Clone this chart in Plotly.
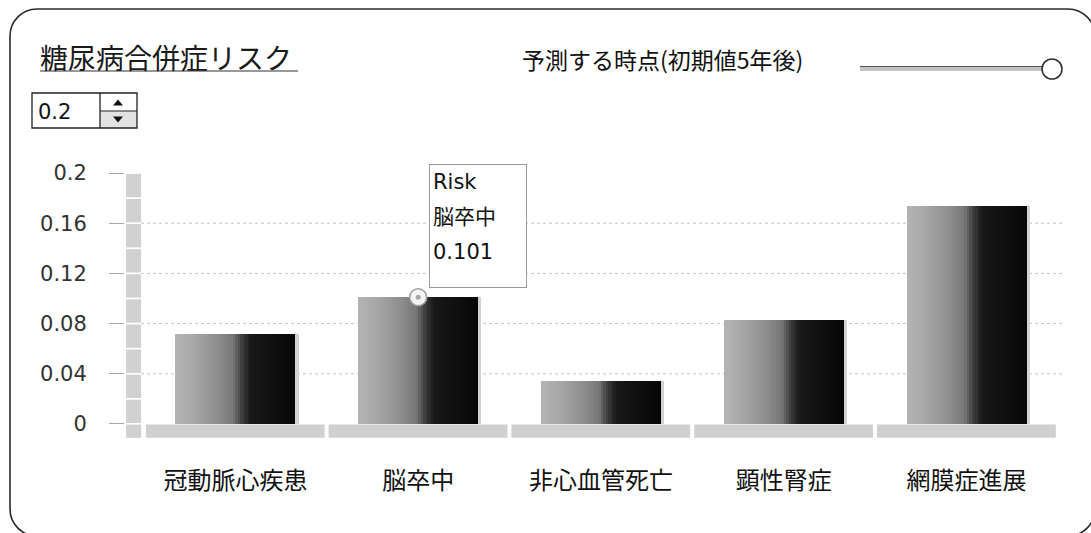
import plotly.graph_objects as go

# --- data -------------------------------------------------------------
categories = ["冠動脈心疾患", "脳卒中", "非心血管死亡", "顕性腎症", "網膜症進展"]
risk = [0.072, 0.101, 0.034, 0.083, 0.174]
series_name = "Risk"
y_ticks = [0, 0.04, 0.08, 0.12, 0.16, 0.2]
y_tick_labels = ["0", "0.04", "0.08", "0.12", "0.16", "0.2"]
grid_values = [0.04, 0.08, 0.12, 0.16]
wall_steps = [0.0, 0.02, 0.04, 0.06, 0.08, 0.10, 0.12, 0.14, 0.16, 0.18, 0.20]
chart_title = "糖尿病合併症リスク"
horizon_label = "予測する時点(初期値5年後)"
spinner_value = "0.2"
focus_index = 1  # category whose tooltip is shown

# --- styling ----------------------------------------------------------
W, H = 1091, 533
PLOT_L, PLOT_R, PLOT_T, PLOT_B = 125, 1062, 173, 438
LATIN = "DejaVu Sans, Noto Sans CJK JP, sans-serif"
CJK = "Noto Sans CJK JP, sans-serif"
BAR_WIDTH = 0.656
N_SLICES = 48
# horizontal shading of each bar: (position across bar, gray level)
SHADE = [(0.0, 180), (0.15, 168), (0.35, 142), (0.48, 120),
         (0.56, 58), (0.63, 24), (1.0, 6)]


def px_x(x):
    return (x - PLOT_L) / (PLOT_R - PLOT_L)


def px_y(y):
    return (PLOT_B - y) / (PLOT_B - PLOT_T)


def gray_at(t):
    for (t0, g0), (t1, g1) in zip(SHADE, SHADE[1:]):
        if t0 <= t <= t1:
            g = g0 + (g1 - g0) * (t - t0) / (t1 - t0)
            break
    else:
        g = SHADE[-1][1]
    g = int(round(g))
    return f"rgb({g},{g},{g})"


fig = go.Figure()

# soft shadow to the right of each bar
fig.add_bar(x=categories, y=risk, offset=BAR_WIDTH / 2 - 0.004, width=0.022,
            marker=dict(color="#d2d2d2", line_width=0),
            hoverinfo="skip", showlegend=False)

# each bar is built from thin vertical slices to get the shaded look
step = BAR_WIDTH / N_SLICES
for k in range(N_SLICES):
    t = (k + 0.5) / N_SLICES
    w = step * 1.6 if k < N_SLICES - 1 else step
    fig.add_bar(x=categories, y=risk, offset=-BAR_WIDTH / 2 + k * step,
                width=w, marker=dict(color=gray_at(t), line_width=0),
                hoverinfo="skip", showlegend=False)

# highlighted point on the focused bar
fig.add_scatter(x=[categories[focus_index]], y=[risk[focus_index]],
                mode="markers", cliponaxis=False, hoverinfo="skip",
                showlegend=False,
                marker=dict(size=17, color="#f4f4f4",
                            line=dict(color="#9c9c9c", width=1.5)))
fig.add_scatter(x=[categories[focus_index]], y=[risk[focus_index]],
                mode="markers", cliponaxis=False, hoverinfo="skip",
                showlegend=False,
                marker=dict(size=5, color="#a8a8a8", line_width=0))

shapes = []

# dotted gridlines
for v in grid_values:
    shapes.append(dict(type="line", xref="paper", yref="y",
                       x0=px_x(141), x1=1.0, y0=v, y1=v, layer="below",
                       line=dict(color="#c4c4c4", width=1, dash="dot")))

# left wall, split into blocks
for lo, hi in zip(wall_steps, wall_steps[1:]):
    shapes.append(dict(type="rect", xref="x", yref="y",
                       x0=-0.598, x1=-0.516, y0=lo + 0.0007, y1=hi - 0.0007,
                       layer="below", line_width=0, fillcolor="#d0d0d0"))
# floor: corner block plus one strip per category
shapes.append(dict(type="rect", xref="x", yref="y",
                   x0=-0.598, x1=-0.516, y0=-0.0111, y1=-0.0005,
                   layer="below", line_width=0, fillcolor="#d0d0d0"))
for i in range(len(categories)):
    shapes.append(dict(type="rect", xref="x", yref="y",
                       x0=i - 0.49, x1=i + 0.488, y0=-0.0111, y1=-0.0005,
                       layer="below", line_width=0, fillcolor="#d0d0d0"))

# tooltip box next to the highlighted point
annotations = []
annotations.append(dict(xref="x", yref="y", x=focus_index, y=risk[focus_index],
                        xanchor="left", yanchor="bottom", xshift=11, yshift=9,
                        text=" ", width=96, height=122, borderpad=0,
                        bgcolor="white", bordercolor="#9a9a9a", borderwidth=1,
                        showarrow=False))
tip_lines = [series_name, categories[focus_index], f"{risk[focus_index]:.3f}"]
for line, shift in zip(tip_lines, [115, 80, 45]):
    annotations.append(dict(xref="x", yref="y", x=focus_index,
                            y=risk[focus_index], xanchor="left",
                            yanchor="middle", xshift=13, yshift=shift,
                            text=line, showarrow=False,
                            font=dict(family=LATIN, size=21, color="#111")))

# header: title, spinner, horizon label and slider
annotations.append(dict(xref="paper", yref="paper", x=px_x(38), y=px_y(57),
                        xanchor="left", yanchor="middle", text=chart_title,
                        showarrow=False,
                        font=dict(family=CJK, size=28, color="#1a1a1a")))
shapes.append(dict(type="line", xref="paper", yref="paper",
                   x0=px_x(40), x1=px_x(298), y0=px_y(71), y1=px_y(71),
                   line=dict(color="#333", width=1.2)))

annotations.append(dict(xref="paper", yref="paper", x=px_x(662), y=px_y(59),
                        xanchor="center", yanchor="middle", text=horizon_label,
                        showarrow=False,
                        font=dict(family=CJK, size=23, color="#111")))

# spinner box
shapes.append(dict(type="rect", xref="paper", yref="paper",
                   x0=px_x(100), x1=px_x(137), y0=px_y(128), y1=px_y(111),
                   line_width=0, fillcolor="#e2e2e2"))
shapes.append(dict(type="rect", xref="paper", yref="paper",
                   x0=px_x(32), x1=px_x(137), y0=px_y(128), y1=px_y(93),
                   line=dict(color="#222", width=1.3)))
shapes.append(dict(type="line", xref="paper", yref="paper",
                   x0=px_x(100), x1=px_x(100), y0=px_y(128), y1=px_y(93),
                   line=dict(color="#222", width=1.3)))
shapes.append(dict(type="line", xref="paper", yref="paper",
                   x0=px_x(100), x1=px_x(137), y0=px_y(111), y1=px_y(111),
                   line=dict(color="#222", width=1.2)))


def tri(cx, cy, up):
    d = -1 if up else 1
    pts = [(cx - 5, cy - 2.5 * d), (cx + 5, cy - 2.5 * d), (cx, cy + 3.5 * d)]
    return "M " + " L ".join(f"{px_x(a)},{px_y(b)}" for a, b in pts) + " Z"


shapes.append(dict(type="path", xref="paper", yref="paper",
                   path=tri(118, 103, True), fillcolor="#111", line_width=0))
shapes.append(dict(type="path", xref="paper", yref="paper",
                   path=tri(118, 119, False), fillcolor="#111", line_width=0))
annotations.append(dict(xref="paper", yref="paper", x=px_x(36), y=px_y(112),
                        xanchor="left", yanchor="middle", text=spinner_value,
                        showarrow=False,
                        font=dict(family=LATIN, size=21, color="#111")))

# slider
shapes.append(dict(type="line", xref="paper", yref="paper",
                   x0=px_x(860), x1=px_x(1044), y0=px_y(69), y1=px_y(69),
                   line=dict(color="#c2c2c2", width=4)))
shapes.append(dict(type="line", xref="paper", yref="paper",
                   x0=px_x(860), x1=px_x(1044), y0=px_y(66.5), y1=px_y(66.5),
                   line=dict(color="#555", width=1.2)))
shapes.append(dict(type="circle", xref="paper", yref="paper",
                   x0=px_x(1042), x1=px_x(1062), y0=px_y(79), y1=px_y(59),
                   fillcolor="white", line=dict(color="#333", width=1.6)))

# rounded outer frame
L, R, T, B, r = 10, 1095, 9, 536, 27
k = 0.5523 * r
frame_pts = [
    ("M", [(L + r, T)]), ("L", [(R - r, T)]),
    ("C", [(R - r + k, T), (R, T + r - k), (R, T + r)]),
    ("L", [(R, B - r)]),
    ("C", [(R, B - r + k), (R - r + k, B), (R - r, B)]),
    ("L", [(L + r, B)]),
    ("C", [(L + r - k, B), (L, B - r + k), (L, B - r)]),
    ("L", [(L, T + r)]),
    ("C", [(L, T + r - k), (L + r - k, T), (L + r, T)]),
]
frame_path = " ".join(
    cmd + " " + " ".join(f"{px_x(a)},{px_y(b)}" for a, b in pts)
    for cmd, pts in frame_pts) + " Z"
shapes.append(dict(type="path", xref="paper", yref="paper", path=frame_path,
                   line=dict(color="#2a2a2a", width=1.6)))

fig.update_layout(
    width=W, height=H, autosize=False,
    margin=dict(l=PLOT_L, r=W - PLOT_R, t=PLOT_T, b=H - PLOT_B, pad=0),
    paper_bgcolor="white", plot_bgcolor="white",
    barmode="overlay", bargap=0,
    shapes=shapes, annotations=annotations,
    xaxis=dict(type="category", categoryorder="array",
               categoryarray=categories, range=[-0.604, 4.522],
               showgrid=False, zeroline=False, showline=False, ticks="",
               ticklabelstandoff=26,
               tickfont=dict(family=CJK, size=24, color="#111")),
    yaxis=dict(range=[-0.0112, 0.2], tickvals=y_ticks, ticktext=y_tick_labels,
               showgrid=False, zeroline=False, showline=False,
               ticks="outside", ticklen=15, tickcolor="#a8a8a8", tickwidth=1,
               ticklabelstandoff=18,
               tickfont=dict(family=LATIN, size=21, color="#333")),
)

fig.write_html("out.html", config={"displayModeBar": False})
